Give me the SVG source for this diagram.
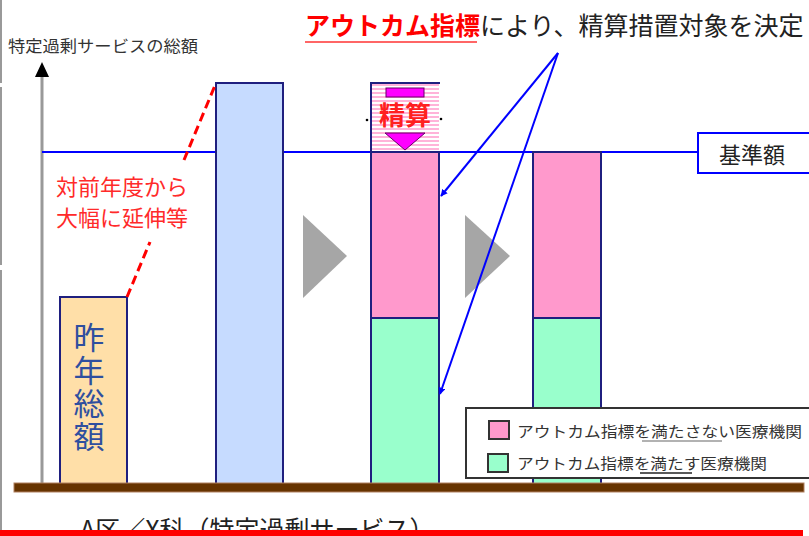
<svg xmlns="http://www.w3.org/2000/svg" width="809" height="536" viewBox="0 0 809 536">
<style>
text{font-family:"Noto Sans CJK JP","Noto Sans",sans-serif}
.bar{stroke:#1f1f7f;stroke-width:2}
.pink{fill:#ff99cc}
.green{fill:#99ffcc}
.tri{fill:#a6a6a6}
.arr{stroke:#0000ff;stroke-width:2;fill:none;marker-end:url(#ah)}
.leg{font-size:15px;fill:#333}
</style>
<defs>
<marker id="ah" viewBox="0 0 10 10" refX="9" refY="5" markerWidth="7" markerHeight="7" orient="auto" markerUnits="userSpaceOnUse">
<path d="M0,0 L10,5 L0,10 z" fill="#0000ff"/>
</marker>
<pattern id="stripe" width="8" height="4" patternUnits="userSpaceOnUse">
<rect width="8" height="4" fill="#ffffff"/>
<rect width="8" height="2" fill="#ffb3d9"/>
</pattern>
</defs>
<rect width="809" height="536" fill="#ffffff"/>
<g id="frame" stroke="#999" stroke-width="2">
<line x1="1" y1="0" x2="1" y2="83"/>
<line x1="1" y1="87" x2="1" y2="265"/>
<line x1="1" y1="270" x2="1" y2="536"/>
</g>
<g id="axis">
<line x1="42" y1="74" x2="42" y2="486" stroke="#999" stroke-width="3"/>
<path d="M42,62 L49,77 L35,77 z" fill="#000"/>
<text x="8" y="52" font-size="16" fill="#333" textLength="190" lengthAdjust="spacingAndGlyphs">特定過剰サービスの総額</text>
</g>
<g id="title">
<text x="305" y="35" font-size="25"><tspan fill="#ff0000" font-weight="bold">アウトカム指標</tspan><tspan fill="#222">により、精算措置対象を決定</tspan></text>
<line x1="305" y1="42" x2="477" y2="42" stroke="#ff6666" stroke-width="2"/>
</g>
<g id="baseline-line">
<line x1="42" y1="152" x2="698" y2="152" stroke="#0000ff" stroke-width="2"/>
</g>
<g id="kijungaku">
<rect x="698" y="133" width="115" height="40" fill="#fff" stroke="#0000ff" stroke-width="2"/>
<text x="752" y="163" font-size="22" fill="#222" text-anchor="middle">基準額</text>
</g>
<g id="bar-lastyear">
<rect class="bar" x="60" y="297" width="67" height="190" fill="#ffdfa8"/>
<text x="89" y="322" font-size="31" fill="#2f4f9f" writing-mode="tb" letter-spacing="2">昨年総額</text>
</g>
<g id="note">
<text font-size="22" fill="#ff2a2a"><tspan x="56" y="195">対前年度から</tspan><tspan x="56" y="226">大幅に延伸等</tspan></text>
</g>
<g id="bar-current">
<rect class="bar" x="216" y="83" width="67" height="404" fill="#c6dbff"/>
</g>
<g id="arrow1"><path class="tri" d="M303,215 L347,256 L303,298 z"/></g>
<g id="arrow2"><path class="tri" d="M465,215 L510,256 L465,298 z"/></g>
<g id="bar-settle">
<rect x="371" y="83" width="68" height="69" fill="url(#stripe)"/>
<line x1="370" y1="83" x2="440" y2="83" stroke="#1f1f7f" stroke-width="2"/>
<line x1="371" y1="83" x2="371" y2="152" stroke="#1f1f7f" stroke-width="2"/>
<rect x="386" y="88" width="38" height="9" fill="#ff00ff" stroke="#660066" stroke-width="1"/>
<path d="M385,133 L425,133 L405,150 z" fill="#ff00ff" stroke="#660066" stroke-width="1"/>
<text x="405" y="125" font-size="26" font-weight="bold" fill="#ff2020" text-anchor="middle">精算</text>
<circle cx="367" cy="120" r="1.3" fill="#000"/>
<circle cx="441" cy="119" r="1.3" fill="#000"/>
<rect class="bar pink" x="371" y="152" width="68" height="166"/>
<rect class="bar green" x="371" y="318" width="68" height="169"/>
</g>
<g id="bar-after">
<rect class="bar pink" x="533" y="152" width="68" height="166"/>
<rect class="bar green" x="533" y="318" width="68" height="169"/>
</g>
<g id="connectors">
<line x1="127" y1="297" x2="150" y2="242" stroke="#ff0000" stroke-width="3" stroke-dasharray="9,5"/>
<line x1="184" y1="160" x2="216" y2="83" stroke="#ff0000" stroke-width="3" stroke-dasharray="9,5"/>
<path class="arr" d="M558,53 L441,196"/>
<path class="arr" d="M558,53 L440,394"/>
</g>
<g id="legend">
<rect x="466" y="408" width="350" height="70" fill="#fff" stroke="#333" stroke-width="2"/>
<rect x="489" y="421" width="20" height="18" fill="#ff99cc" stroke="#333" stroke-width="2"/>
<text class="leg" x="517" y="437" textLength="285" lengthAdjust="spacingAndGlyphs">アウトカム指標を満たさない医療機関</text>
<line x1="642" y1="441" x2="722" y2="441" stroke="#999" stroke-width="1.5"/>
<rect x="488" y="454" width="20" height="18" fill="#99ffcc" stroke="#333" stroke-width="2"/>
<text class="leg" x="517" y="469" textLength="250" lengthAdjust="spacingAndGlyphs">アウトカム指標を満たす医療機関</text>
<line x1="640" y1="473" x2="692" y2="473" stroke="#222" stroke-width="1.5"/>
</g>
<g id="floor">
<rect x="14" y="483" width="790" height="9" fill="#663300" stroke="#b08060" stroke-width="1"/>
</g>
<g id="footer">
<text x="80" y="539" font-size="25" fill="#222">A区／X科（特定過剰サービス）</text>
<rect x="0" y="530" width="803" height="6" fill="#ff0000"/>
</g>
</svg>
